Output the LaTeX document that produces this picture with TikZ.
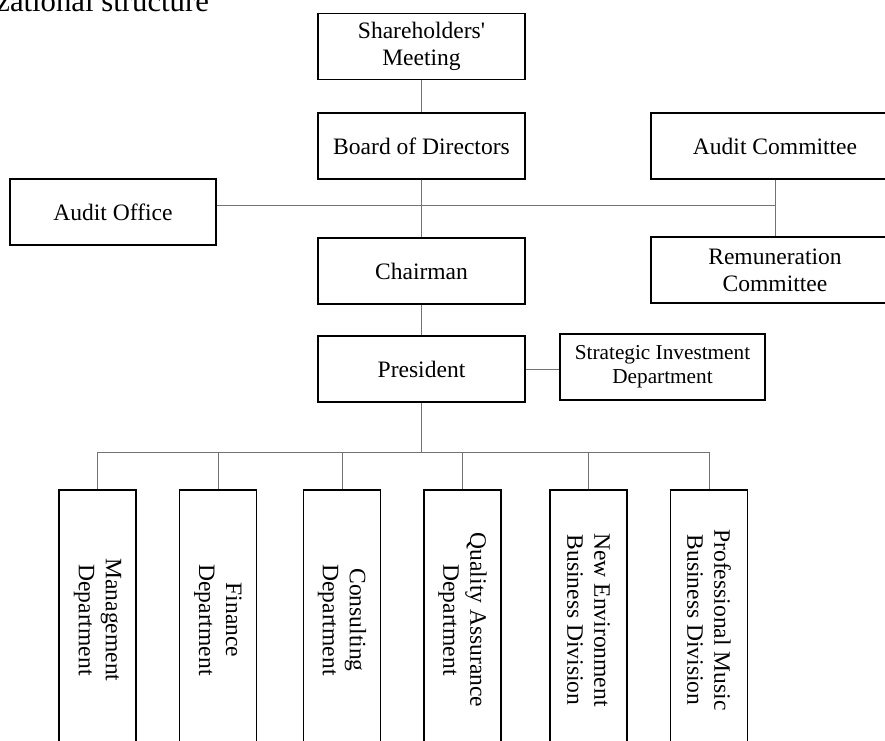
\documentclass[tikz,border=0pt]{standalone}
\usepackage{fontspec}
\setmainfont{Liberation Serif}
\tikzset{
  unitbox/.style={draw, line width=0.8pt, align=center, inner sep=0pt,
    minimum width=4.14cm, minimum height=1.32cm,
    font=\fontsize{13.4}{15.4}\selectfont},
  sidebox/.style={unitbox, minimum width=4.96cm},
  deptbox/.style={unitbox, rotate=-90, minimum width=5.2cm, minimum height=1.54cm},
  link/.style={draw=black!55, line width=0.5pt}
}
\begin{document}
\begin{tikzpicture}[x=0.02cm, y=-0.02cm]
  \useasboundingbox (0,0) rectangle (885,740);
  % heading, cut off by the page edge
  \node[anchor=base west, inner sep=0pt, font=\fontsize{17.5}{20}\selectfont]
    (heading) at (-4,12) {zational structure};
  % main chain
  \node[unitbox] (share) at (421.5,46.5) {Shareholders\textquotesingle\\Meeting};
  \node[unitbox] (board) at (421.5,146) {Board of Directors};
  \node[unitbox] (chair) at (421.5,271) {Chairman};
  \node[unitbox] (pres) at (421.5,369) {President};
  % side units
  \node[unitbox, minimum width=4.12cm] (audoff) at (113,212) {Audit Office};
  \node[sidebox] (audcom) at (775,146) {Audit Committee};
  \node[sidebox] (remun) at (775,270) {Remuneration\\Committee};
  \node[unitbox, minimum width=4.1cm, font=\fontsize{12.1}{13.7}\selectfont]
    (strat) at (662.5,367) {Strategic Investment\\Department};
  % departments
  \node[deptbox] (mgmt) at (97.5,620) {Management\\Department};
  \node[deptbox] (fin) at (218,620) {Finance\\Department};
  \node[deptbox] (cons) at (342,620) {Consulting\\Department};
  \node[deptbox] (qa) at (462.5,620) {Quality Assurance\\Department};
  \node[deptbox] (newenv) at (588.5,620) {New Environment\\Business Division};
  \node[deptbox] (music) at (709,620) {Professional Music\\Business Division};
  % connectors
  \coordinate (tie) at (775,205.5);
  \coordinate (bus) at (421.5,452);
  \draw[link] (share) -- (board);
  \draw[link] (board) -- (chair);
  \draw[link] (chair) -- (pres);
  \draw[link] (audoff.east |- tie) -- (tie);
  \draw[link] (audcom) -- (remun);
  \draw[link] (pres.east) -- (pres.east -| strat.west);
  \draw[link] (pres) -- (bus);
  \draw[link] (mgmt.west |- bus) -- (music.west |- bus);
  \foreach \d in {mgmt,fin,cons,qa,newenv,music}
    \draw[link] (\d.west |- bus) -- (\d.west);
\end{tikzpicture}
\end{document}
